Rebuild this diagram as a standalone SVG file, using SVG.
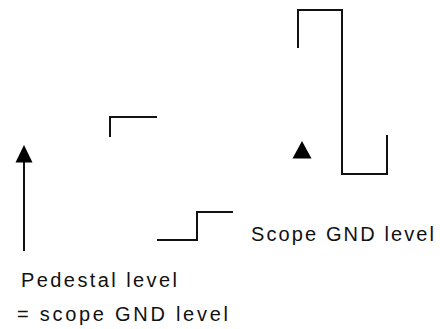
<svg xmlns="http://www.w3.org/2000/svg" width="440" height="329" viewBox="0 0 440 329">
<style>
.ln{fill:none;stroke:#111;stroke-width:2;stroke-linecap:butt;stroke-linejoin:miter}
.tri{fill:#000}
.lbl{font-family:"Liberation Sans",Arial,sans-serif;font-size:20px;fill:#111}
</style>
<rect width="440" height="329" fill="#fff"/>
<g id="waveforms">
<path class="ln" d="M298,48 V10 H342 V174 H387 V135"/>
<path class="ln" d="M110,137 V117 H157"/>
<path class="ln" d="M157,240 H197 V212 H233"/>
</g>
<g id="connectors">
<line class="ln" x1="24" y1="251" x2="24" y2="160"/>
<polygon class="tri" points="24,145 15.5,162.5 32.5,162.5"/>
</g>
<g id="marker-right">
<polygon class="tri" points="302,141 292.5,158.5 311.5,158.5"/>
</g>
<g id="label-scope">
<text class="lbl" x="251" y="241" textLength="183" lengthAdjust="spacing">Scope GND level</text>
</g>
<g id="label-pedestal">
<text class="lbl" x="21" y="287" textLength="156" lengthAdjust="spacing">Pedestal level</text>
<text class="lbl" x="17" y="321" textLength="211" lengthAdjust="spacing">= scope GND level</text>
</g>
</svg>
